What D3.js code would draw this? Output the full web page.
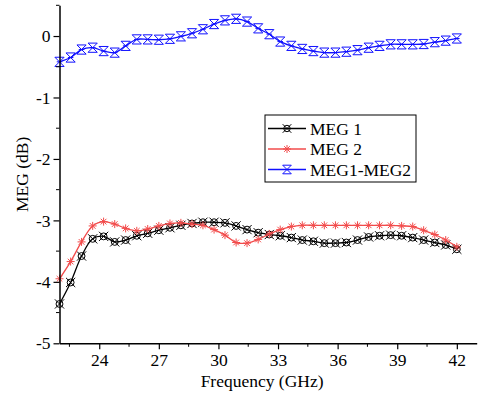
<!DOCTYPE html>
<html>
<head>
<meta charset="utf-8">
<script src="https://cdn.jsdelivr.net/npm/d3@7"></script>
<style>
  body { margin: 0; background: #fff; }
</style>
</head>
<body>
<div id="chart"></div>
<script>
// frequency points (GHz)
const freq = [22.00, 22.56, 23.11, 23.67, 24.22, 24.78, 25.33, 25.89, 26.44, 27.00,
  27.56, 28.11, 28.67, 29.22, 29.78, 30.33, 30.89, 31.44, 32.00, 32.56,
  33.11, 33.67, 34.22, 34.78, 35.33, 35.89, 36.44, 37.00, 37.56, 38.11,
  38.67, 39.22, 39.78, 40.33, 40.89, 41.44, 42.00];

const meg1 = [-4.36, -4.01, -3.58, -3.30, -3.26, -3.35, -3.32, -3.25, -3.21, -3.16,
  -3.12, -3.08, -3.05, -3.03, -3.03, -3.04, -3.09, -3.15, -3.20, -3.23,
  -3.25, -3.28, -3.32, -3.34, -3.37, -3.37, -3.36, -3.32, -3.27, -3.25,
  -3.24, -3.25, -3.28, -3.32, -3.36, -3.40, -3.47];

const meg2 = [-3.95, -3.67, -3.35, -3.09, -3.02, -3.06, -3.13, -3.17, -3.14, -3.09,
  -3.05, -3.04, -3.06, -3.08, -3.15, -3.24, -3.36, -3.37, -3.31, -3.22,
  -3.15, -3.10, -3.08, -3.08, -3.08, -3.08, -3.08, -3.08, -3.08, -3.08,
  -3.08, -3.09, -3.10, -3.16, -3.23, -3.32, -3.43];

const megDiff = [-0.42, -0.35, -0.22, -0.19, -0.245, -0.27, -0.16, -0.055, -0.055, -0.06,
  -0.045, -0.005, 0.045, 0.11, 0.195, 0.255, 0.28, 0.235, 0.125, 0.03,
  -0.09, -0.16, -0.21, -0.245, -0.27, -0.27, -0.255, -0.23, -0.19, -0.16,
  -0.135, -0.135, -0.135, -0.13, -0.10, -0.075, -0.04];

const xTicks = [24, 27, 30, 33, 36, 39, 42];
const xMinor = [22.5, 25.5, 28.5, 31.5, 34.5, 37.5, 40.5];
const yTicks = [0, -1, -2, -3, -4, -5];
const yMinor = [0.5, -0.5, -1.5, -2.5, -3.5, -4.5];

const series = [
  { name: "MEG 1", values: meg1, color: "#000000", marker: "circx" },
  { name: "MEG 2", values: meg2, color: "#f24b4b", marker: "star" },
  { name: "MEG1-MEG2", values: megDiff, color: "#1010ff", marker: "hourglass" }
];

const W = 478, H = 399;
const margin = { top: 5.3, right: 1.3, bottom: 55.7, left: 59.5 };
const FONT = "Times New Roman";
const FS = 17.5;

const svg = d3.select("#chart").append("svg")
  .attr("width", W).attr("height", H)
  .attr("font-family", FONT);

const x = d3.scaleLinear().domain([22, 43]).range([margin.left, W - margin.right]);
const y = d3.scaleLinear().domain([-5, 0.5]).range([H - margin.bottom, margin.top]);

function markerPath(type, r) {
  const p = d3.path();
  if (type === "circx") {
    p.moveTo(r * 0.75, 0); p.arc(0, 0, r * 0.75, 0, 2 * Math.PI);
    p.moveTo(-r, -r); p.lineTo(r, r);
    p.moveTo(-r, r); p.lineTo(r, -r);
  } else if (type === "star") {
    for (let k = 0; k < 4; k++) {
      const a = k * Math.PI / 4;
      p.moveTo(-r * Math.cos(a), -r * Math.sin(a));
      p.lineTo(r * Math.cos(a), r * Math.sin(a));
    }
  } else {
    p.moveTo(-r, -r); p.lineTo(r, r);
    p.moveTo(-r, r); p.lineTo(r, -r);
    p.moveTo(-r, -r); p.lineTo(r, -r);
    p.moveTo(-r, r); p.lineTo(r, r);
    p.moveTo(-r * 0.6, 0); p.lineTo(r * 0.6, 0);
  }
  return p.toString();
}

const line = d3.line()
  .x(d => x(d[0]))
  .y(d => y(d[1]))
  .curve(d3.curveCatmullRom.alpha(0.5));

// series lines + markers
series.forEach(s => {
  const pts = freq.map((f, i) => [f, s.values[i]]);
  svg.append("path")
    .datum(pts)
    .attr("fill", "none")
    .attr("stroke", s.color)
    .attr("stroke-width", 1.3)
    .attr("d", line);
  const r = s.marker === "star" ? 4 : 4.6;
  svg.append("g").selectAll("path")
    .data(pts)
    .join("path")
    .attr("transform", d => `translate(${x(d[0])},${y(d[1])})`)
    .attr("d", markerPath(s.marker, r))
    .attr("fill", "none")
    .attr("stroke", s.color)
    .attr("stroke-width", 1);
});

// axes
const xAxis = svg.append("g")
  .attr("transform", `translate(0,${H - margin.bottom})`)
  .call(d3.axisBottom(x).tickValues(xTicks).tickFormat(d => String(d))
    .tickSize(6).tickSizeOuter(0).tickPadding(4));
xAxis.selectAll(".minor").data(xMinor).join("line")
  .attr("class", "minor")
  .attr("x1", d => x(d)).attr("x2", d => x(d))
  .attr("y1", 0).attr("y2", 3.5)
  .attr("stroke", "#000");

const yAxis = svg.append("g")
  .attr("transform", `translate(${margin.left},0)`)
  .call(d3.axisLeft(y).tickValues(yTicks).tickFormat(d => String(d))
    .tickSize(6).tickSizeOuter(0).tickPadding(3));
yAxis.selectAll(".minor").data(yMinor).join("line")
  .attr("class", "minor")
  .attr("y1", d => y(d)).attr("y2", d => y(d))
  .attr("x1", 0).attr("x2", -3.5)
  .attr("stroke", "#000");

[xAxis, yAxis].forEach(a => {
  a.attr("font-family", FONT).attr("font-size", FS);
  a.select(".domain").attr("stroke-width", 1.5);
  a.selectAll(".tick line").attr("stroke-width", 1.2);
  a.selectAll(".tick text")
    .attr("fill", "#000")
    .attr("font-family", FONT)
    .attr("font-size", FS);
});

// axis titles
svg.append("text")
  .attr("x", (x(22) + x(43)) / 2 - 6)
  .attr("y", 387)
  .attr("text-anchor", "middle")
  .attr("font-family", FONT)
  .attr("font-size", FS)
  .text("Frequency (GHz)");

svg.append("text")
  .attr("transform", `translate(28,${y(-2.25)}) rotate(-90)`)
  .attr("text-anchor", "middle")
  .attr("font-family", FONT)
  .attr("font-size", FS)
  .text("MEG (dB)");

// legend
const legend = svg.append("g").attr("transform", "translate(265,115)");
legend.append("rect")
  .attr("width", 151).attr("height", 67)
  .attr("fill", "#fff").attr("stroke", "#000").attr("stroke-width", 1);
const rows = legend.selectAll("g.row").data(series).join("g")
  .attr("class", "row")
  .attr("transform", (d, i) => `translate(0,${13.5 + i * 20.5})`);
rows.append("line")
  .attr("x1", 3).attr("x2", 41)
  .attr("stroke", d => d.color).attr("stroke-width", 1.3);
rows.append("path")
  .attr("transform", "translate(22,0)")
  .attr("d", d => markerPath(d.marker, d.marker === "star" ? 4 : 4.3))
  .attr("fill", "none")
  .attr("stroke", d => d.color);
rows.append("text")
  .attr("x", 45)
  .attr("dy", "0.35em")
  .attr("font-family", FONT)
  .attr("font-size", FS)
  .text(d => d.name);
</script>
</body>
</html>
